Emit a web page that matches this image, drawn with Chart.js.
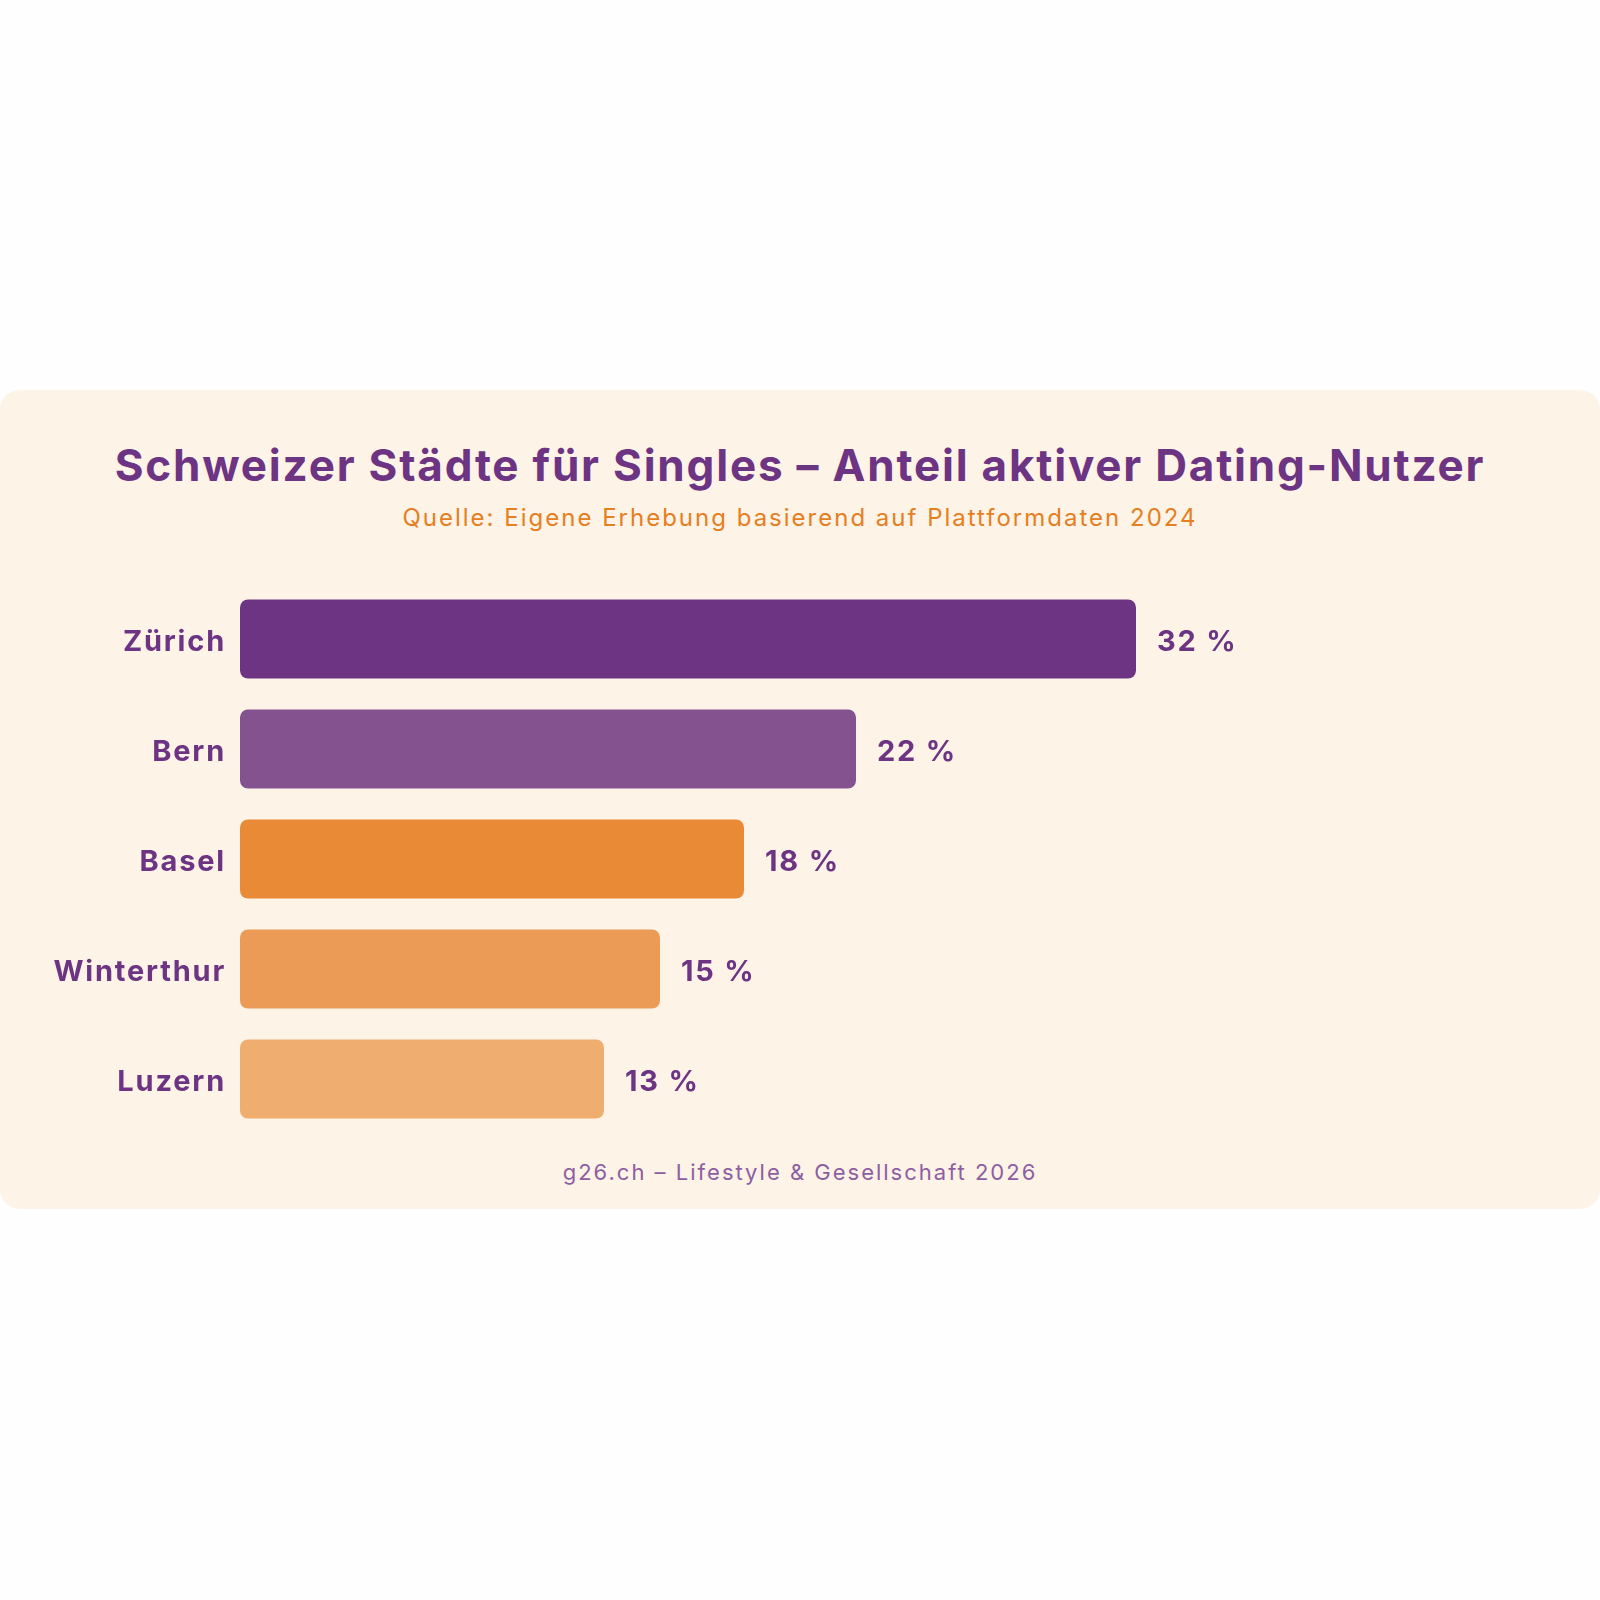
<!DOCTYPE html>
<html lang="de">
<head>
<meta charset="utf-8">
<title>Schweizer Städte für Singles</title>
<script src="https://cdn.jsdelivr.net/npm/chart.js@4.4.1/dist/chart.umd.min.js"></script>
<style>
  html, body {
    margin: 0;
    padding: 0;
    width: 1600px;
    height: 1600px;
    overflow: hidden;
    background: #fefefe;
    font-family: Inter, "Noto Sans", sans-serif;
  }
  .card {
    position: absolute;
    left: 0;
    top: 390px;
    width: 1600px;
    height: 819px;
    background: #fdf3e6;
    border-radius: 20px;
  }
  .txt {
    position: absolute;
    left: 0;
    width: 1600px;
    text-align: center;
    white-space: nowrap;
  }
  #title {
    top: 443px;
    font-size: 44px;
    line-height: 44px;
    font-weight: 700;
    color: #6c3483;
    letter-spacing: 1.8px;
  }
  #subtitle {
    top: 506px;
    font-size: 24px;
    line-height: 24px;
    color: #e67e22;
    letter-spacing: 2px;
  }
  #footer {
    top: 1161px;
    font-size: 22px;
    line-height: 22px;
    color: #8e5ea2;
    letter-spacing: 2px;
  }
  #chartBox {
    position: absolute;
    left: 0;
    top: 584px;
    width: 1600px;
    height: 550px;
  }
</style>
</head>
<body>
<div class="card"></div>
<div class="txt" id="title">Schweizer Städte für Singles – Anteil aktiver Dating-Nutzer</div>
<div class="txt" id="subtitle">Quelle: Eigene Erhebung basierend auf Plattformdaten 2024</div>
<div id="chartBox"><canvas id="barChart"></canvas></div>
<div class="txt" id="footer">g26.ch – Lifestyle &amp; Gesellschaft 2026</div>

<script>
"use strict";

const cities = ["Zürich", "Bern", "Basel", "Winterthur", "Luzern"];
const shares = [32, 22, 18, 15, 13];
const barColors = ["#6c3483", "#83528f", "#e88a36", "#eb9b55", "#efad70"];

const purple = "#6c3483";
const labelFont = "Inter, 'Noto Sans', sans-serif";

// wider tracking for all canvas text (tick labels + value labels)
const tracking = {
  id: "tracking",
  beforeDraw(chart) {
    if ("letterSpacing" in chart.ctx) chart.ctx.letterSpacing = "1.8px";
  },
};

// draws "32 %" etc. right after each bar
const valueLabels = {
  id: "valueLabels",
  afterDatasetsDraw(chart) {
    const { ctx } = chart;
    const meta = chart.getDatasetMeta(0);
    ctx.save();
    ctx.font = "700 29px " + labelFont;
    ctx.fillStyle = purple;
    ctx.textAlign = "left";
    ctx.textBaseline = "middle";
    meta.data.forEach((bar, i) => {
      ctx.fillText(shares[i] + " %", bar.x + 21, bar.y + 3);
    });
    ctx.restore();
  },
};

document.addEventListener("DOMContentLoaded", () => {
  const container = document.getElementById("barChart");

  new Chart(container, {
    type: "bar",
    data: {
      labels: cities,
      datasets: [
        {
          label: "Anteil aktiver Dating-Nutzer",
          data: shares,
          backgroundColor: barColors,
          borderRadius: 8,
          borderSkipped: false,
          categoryPercentage: 1,
          barPercentage: 0.72,
        },
      ],
    },
    options: {
      indexAxis: "y",
      responsive: true,
      maintainAspectRatio: false,
      animation: false,
      layout: {
        padding: { left: 0, right: 240, top: 0, bottom: 0 },
      },
      plugins: {
        legend: { display: false },
        tooltip: { enabled: false },
      },
      scales: {
        x: {
          display: false,
          min: 0,
          max: 40,
        },
        y: {
          grid: { display: false, drawTicks: false },
          border: { display: false },
          ticks: {
            color: purple,
            padding: 14,
            labelOffset: 3,
            font: { family: labelFont, size: 29, weight: "700" },
          },
          afterFit(scale) {
            scale.width = 240;
            scale.paddingTop = 0;
            scale.paddingBottom = 0;
          },
        },
      },
    },
    plugins: [tracking, valueLabels],
  });
});
</script>
</body>
</html>
